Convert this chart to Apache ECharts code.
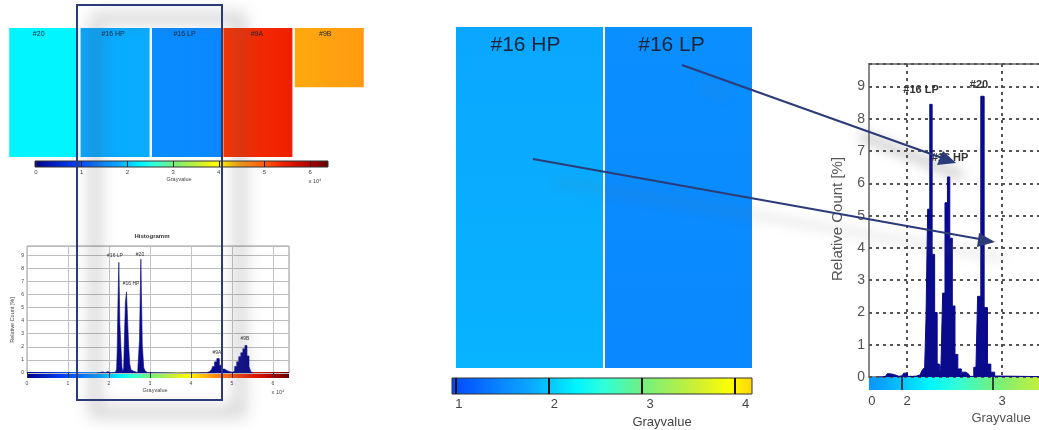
<!DOCTYPE html>
<html><head><meta charset="utf-8">
<style>html,body{margin:0;padding:0;background:#fff}#c{width:1039px;height:430px;filter:blur(0.6px)}</style>
<script src="https://cdn.jsdelivr.net/npm/echarts@6/dist/echarts.min.js"></script></head>
<body><div id="c"></div>
<script>
// ---- data ----
const sampleNames = ['#20', '#16 HP', '#16 LP', '#9A', '#9B'];
const sampleGrayStart = [2.3, 1.8, 1.55, 5.25, 4.42];
const sampleGrayEnd = [2.3, 1.85, 1.5, 5.42, 4.5];
const sampleHeight = [1, 1, 1, 1, 0.46];
const closeupNames = ['#16 HP', '#16 LP'];
const closeupGrayStart = [1.8, 1.57];
const closeupGrayEnd = [1.88, 1.5];
const closeupHeight = [1, 1];
const histGray = [1.70,1.78,1.80,1.84,1.88,1.95,1.98,2.03,2.10,2.137,2.179,2.193,2.207,2.228,2.252,2.277,2.305,2.330,2.351,2.365,2.386,2.414,2.438,2.463,2.491,2.519,2.551,2.593,2.645,2.68,2.726,2.761,2.793,2.831,2.863,2.902,2.944,2.98,4.38,4.45,4.5,4.55,4.6,4.66,4.72,4.78,4.85,4.92,4.98,5.04,5.09,5.14,5.19,5.24,5.29,5.34,5.39,5.44,5.48,5.52];
const histCount = [0,0.03,0.1,0.08,0.02,0.04,0.12,0.02,0.03,0.06,0.2,0.3,1.8,5.2,8.45,3.8,2.0,0.4,0.1,0.4,2.6,5.4,6.2,4.3,2.2,0.7,0.25,0.15,0.1,0.02,0.3,2.5,8.7,2.15,0.4,0.15,0.03,0,0.03,0.1,0.25,0.5,0.85,1.1,0.6,0.3,0.18,0.1,0.05,0.15,0.5,0.85,1.25,1.55,1.85,2.1,1.3,0.5,0.1,0];
const wideTicks = [0,1,2,3,4,5,6];
const closeTicks = [1,2,3,4];
const colormapGray = [0,0.95,1.5,1.8,2.3,2.6,3,3.6,3.95,4.5,5,5.4,6,6.39];
const colormapHex = ['#00008c','#0046ff','#0a88ff','#0aa6ff','#00f5ff','#30ffd8','#70f080','#d0f030','#ffff00','#ff9a10','#ff5a10','#f02000','#b00000','#600000'];

// ---- helpers ----
function jet(v){
  const g=colormapGray,c=colormapHex;
  if(v<=g[0])return c[0];
  for(let i=1;i<g.length;i++){ if(v<=g[i]) return echarts.color.lerp((v-g[i-1])/(g[i]-g[i-1]),[c[i-1],c[i]]); }
  return c[c.length-1];
}
function ramp(a,b){
  const vals=[a,...colormapGray.filter(v=>v>a&&v<b),b];
  return {type:'linear',x:0,y:0,x2:1,y2:0,colorStops:vals.map(v=>({offset:(v-a)/(b-a),color:jet(v)}))};
}
const hist=histGray.map((g,i)=>[g,histCount[i]]);
const hiddenV={show:false,min:0,max:1};
const TXT='Liberation Sans, Arial, sans-serif';
function panelSeries(names,g0,g1,heights,xi,yi,bw,fs,dist,dxs,vertical){
  return {type:'bar',xAxisIndex:xi,yAxisIndex:yi,barWidth:bw,silent:true,
    data:names.map((n,i)=>({value:heights[i],name:n,
      itemStyle:{color:{type:'linear',x:0,y:0,x2:vertical?0:1,y2:vertical?1:0,colorStops:[{offset:0,color:jet(g0[i])},{offset:1,color:jet(g1[i])}]}},
      label:{offset:[dxs[i],0]}})),
    label:{show:true,position:'insideTop',distance:dist,fontSize:fs,color:'#1a2438',fontFamily:TXT,formatter:p=>p.name}};
}
function T(x,y,s,size,o){return Object.assign({type:'text',z:50,x,y,style:{text:s,fontSize:size,fontFamily:TXT,fill:'#444',align:'center',verticalAlign:'middle',...(o&&o.style||{})}},o&&o.el||{});}
function blurPath(points,w,blur,col){ // shadow only: the path sits off-canvas
  return {type:'polyline',z:60,silent:true,shape:{points:points.map(p=>[p[0]-3000,p[1]])},
    style:{stroke:col,fill:null,lineWidth:w,shadowBlur:blur,shadowColor:col,shadowOffsetX:3000,shadowOffsetY:0}};
}
const NAVY='#2b3a78';
const G={outerBoundsMode:'none'};
const chart=echarts.init(document.getElementById('c'),null,{renderer:'canvas'});
chart.setOption({
  animation:false,backgroundColor:'#fff',
  grid:[
    {...G,left:8,width:357,top:28,height:129},
    {...G,left:455,width:298,top:27,height:341},
    {...G,left:35,width:293,top:161,height:6,show:true,backgroundColor:ramp(-0.02,6.39),borderColor:'#333',borderWidth:1},
    {...G,left:452,width:300,top:378,height:16,show:true,backgroundColor:ramp(0.957,4.183),borderColor:'#333',borderWidth:1},
    {...G,left:27,width:262,top:246,height:127,show:true,borderColor:'#999',borderWidth:1},
    {...G,left:27,width:262,top:372,height:6,show:true,backgroundColor:ramp(0,6.39),borderWidth:0},
    {...G,left:869,width:300,top:64,height:313,show:true,borderColor:'#888',borderWidth:2},
    {...G,left:869,width:300,top:377,height:13,show:true,backgroundColor:ramp(1.637,4.934),borderWidth:0}
  ],
  xAxis:[
    {gridIndex:0,type:'category',data:sampleNames,show:false},
    {gridIndex:1,type:'category',data:closeupNames,show:false},
    {gridIndex:2,type:'value',min:-0.02,max:6.39,position:'bottom',splitLine:{show:false},axisLine:{show:false},
      axisTick:{show:true,inside:true,length:6,lineStyle:{color:'#222'},customValues:wideTicks},
      axisLabel:{show:true,customValues:wideTicks,showMaxLabel:true,fontSize:6,margin:2,color:'#444',fontFamily:TXT}},
    {gridIndex:3,type:'value',min:0.957,max:4.183,position:'bottom',splitLine:{show:false},axisLine:{show:false},
      axisTick:{show:true,inside:true,length:16,lineStyle:{color:'#111',width:2},customValues:closeTicks},axisLabel:{show:false}},
    {gridIndex:3,type:'value',min:0.927,max:4.068,position:'bottom',splitLine:{show:false},axisLine:{show:false},axisTick:{show:false},
      axisLabel:{show:true,customValues:closeTicks,fontSize:13,margin:4,color:'#444',fontFamily:TXT}},
    {gridIndex:4,type:'value',min:0,max:6.39,position:'bottom',axisLine:{show:false},axisTick:{show:false},axisLabel:{show:false},
      splitLine:{show:true,lineStyle:{color:'#c4c4c4',width:1}}},
    {gridIndex:5,type:'value',min:0,max:6.39,position:'bottom',splitLine:{show:false},axisLine:{show:false},
      axisTick:{show:true,inside:true,length:6,lineStyle:{color:'#333'},customValues:wideTicks},
      axisLabel:{show:true,customValues:wideTicks,fontSize:5,margin:3,color:'#444',fontFamily:TXT}},
    {gridIndex:6,type:'value',min:1.6,max:4.758,position:'bottom',axisLine:{show:false},axisTick:{show:false,customValues:[2,3]},
      axisLabel:{show:false},splitLine:{show:true,lineStyle:{color:'#555',width:2,type:[3,4]}}},
    {gridIndex:7,type:'value',min:1.637,max:4.934,position:'bottom',splitLine:{show:false},axisLine:{show:false},
      axisTick:{show:true,inside:true,length:13,lineStyle:{color:'#111',width:1.5},customValues:[2,3]},axisLabel:{show:false}},
    {gridIndex:7,type:'value',min:1.6,max:4.758,position:'bottom',splitLine:{show:false},axisLine:{show:false},axisTick:{show:false},
      axisLabel:{show:true,customValues:[1.63,2,3],formatter:v=>v<1.9?'0':String(v),fontSize:13,margin:5,color:'#444',fontFamily:TXT}}
  ],
  yAxis:[
    {gridIndex:0,type:'value',inverse:true,...hiddenV},
    {gridIndex:1,type:'value',inverse:true,...hiddenV},
    {gridIndex:2,type:'value',...hiddenV},
    {gridIndex:3,type:'value',...hiddenV},
    {gridIndex:4,type:'value',min:0,max:9.7,interval:1,axisLine:{show:false},axisTick:{show:false},
      axisLabel:{showMaxLabel:false,fontSize:5,margin:3,color:'#444',fontFamily:TXT},splitLine:{show:true,lineStyle:{color:'#bcbcbc',width:1}}},
    {gridIndex:5,type:'value',...hiddenV},
    {gridIndex:6,type:'value',min:0,max:9.7,interval:1,axisLine:{show:false},axisTick:{show:false},
      axisLabel:{showMaxLabel:false,fontSize:14,margin:4,color:'#555',fontFamily:TXT},splitLine:{show:true,lineStyle:{color:'#555',width:2,type:[3,4]}}},
    {gridIndex:7,type:'value',...hiddenV}
  ],
  series:[
    panelSeries(sampleNames,sampleGrayStart,sampleGrayEnd,sampleHeight,0,0,69,7,3,[-5,-2,-2,-1,-4],false),
    panelSeries(closeupNames,closeupGrayStart,closeupGrayEnd,closeupHeight,1,1,147,21,8,[-4,-7],true),
    {type:'line',xAxisIndex:5,yAxisIndex:4,data:hist,step:'middle',symbol:'none',silent:true,lineStyle:{color:'#0a0a8c',width:0.6},areaStyle:{color:'#0a0a8c',opacity:1}},
    {type:'line',xAxisIndex:7,yAxisIndex:6,data:hist,step:'middle',symbol:'none',silent:true,lineStyle:{color:'#0a0a8c',width:1},areaStyle:{color:'#0a0a8c',opacity:1}}
  ],
  graphic:{elements:[
    T(179,179,'Grayvalue',5.5),
    T(315,181,'x 10⁴',5.5),
    T(152,236,'Histogramm',6,{style:{fontWeight:'bold',fill:'#333'}}),
    T(12,320,'Relative Count [%]',5.5,{el:{rotation:Math.PI/2}}),
    T(155,390,'Grayvalue',5.5),
    T(278,392,'x 10⁴',5.5),
    T(115,256,'#16 LP',5,{style:{fill:'#333'}}),
    T(131,284,'#16 HP',5,{style:{fill:'#333'}}),
    T(140,255,'#20',5,{style:{fill:'#333'}}),
    T(217,353,'#9A',5,{style:{fill:'#333'}}),
    T(245,339,'#9B',5,{style:{fill:'#333'}}),
    T(662,422,'Grayvalue',13),
    T(838,219,'Relative Count [%]',15,{el:{rotation:Math.PI/2},style:{fill:'#555'}}),
    T(921,90,'#16 LP',11,{style:{fontWeight:'bold',fill:'#333'}}),
    T(979,85,'#20',11,{style:{fontWeight:'bold',fill:'#333'}}),
    T(950,158,'#16 HP',11,{style:{fontWeight:'bold',fill:'#333'}}),
    T(1001,418,'Grayvalue',13,{style:{fill:'#555'}}),
    blurPath([[95,18],[240,18],[240,412],[95,412],[95,18]],10,16,'rgba(90,90,90,0.55)'),
    blurPath([[860,135],[962,176]],9,12,'rgba(90,90,90,0.55)'),
    blurPath([[700,85],[730,96]],8,12,'rgba(120,120,120,0.35)'),
    blurPath([[555,181],[1004,258]],7,12,'rgba(110,110,110,0.4)'),
    {type:'rect',z:70,silent:true,shape:{x:77,y:5,width:145,height:395},style:{stroke:NAVY,fill:null,lineWidth:2}},
    {type:'line',z:70,silent:true,shape:{x1:682,y1:65,x2:945,y2:159},style:{stroke:NAVY,lineWidth:2}},
    {type:'polygon',z:70,silent:true,shape:{points:[[956,163],[937,165],[943,151]]},style:{fill:NAVY}},
    {type:'line',z:70,silent:true,shape:{x1:533,y1:159,x2:985,y2:240},style:{stroke:NAVY,lineWidth:2}},
    {type:'polygon',z:70,silent:true,shape:{points:[[995,242],[977,247],[979,233]]},style:{fill:NAVY}}
  ]}
});
</script></body></html>
